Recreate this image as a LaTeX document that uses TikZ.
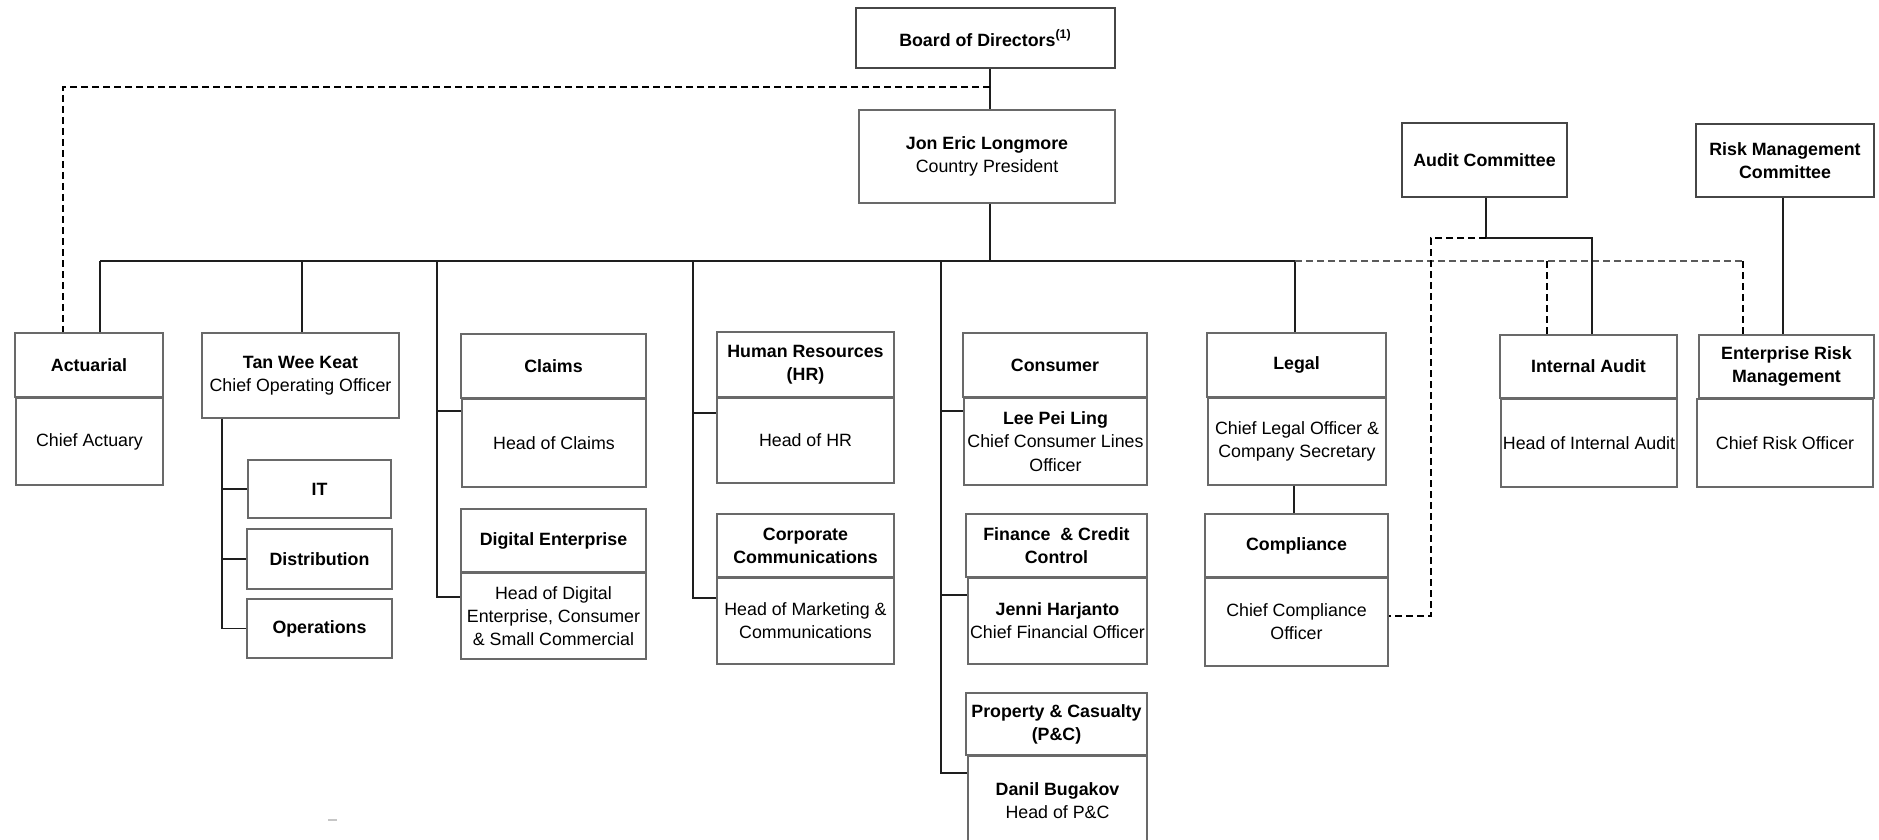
\documentclass[tikz,border=0pt]{standalone}
\usepackage{fontspec}
\setmainfont{Liberation Sans}
\definecolor{bxc}{RGB}{105,105,105}
\definecolor{tbxc}{RGB}{70,70,70}
\definecolor{lnc}{RGB}{30,30,30}
\definecolor{gdc}{RGB}{90,90,90}
\newcommand\fsz{\fontsize{8.9}{11.6}\selectfont}
\newcommand\obx[7]{\node[#2, minimum width={(#5-#3)*0.5pt}, minimum height={(#6-#4)*0.5pt}] (#1) at ({(#3+#5)/2},{(#4+#6)/2}) {#7};}
\tikzset{
  box/.style={draw=bxc, line width=0.6pt, inner sep=0pt, align=center, font=\fsz, fill=white},
  tbox/.style={box, draw=tbxc, line width=1.3pt},
  conn/.style={draw=lnc, line width=0.65pt},
  dsh/.style={draw=black, line width=0.65pt, dash pattern=on 3.5pt off 2pt},
  gdsh/.style={draw=gdc, line width=0.9pt, dash pattern=on 3.5pt off 2pt},
}
\begin{document}
\begin{tikzpicture}[x=0.5pt,y=-0.5pt]
\fill[white] (0,0) rectangle (1879,840);
\clip (0,0) rectangle (1879,840);

% coordinates for connector routing
\coordinate (v0) at (990,0);
\coordinate (dj) at (990,87);
\coordinate (ax) at (63,0);
\coordinate (b1) at (100,261);
\coordinate (b2) at (302,261);
\coordinate (b3) at (437,261);
\coordinate (b4) at (693,261);
\coordinate (b5) at (941,261);
\coordinate (b6) at (1295,261);
\coordinate (bc) at (990,261);
\coordinate (cx) at (222,0);
\coordinate (lx) at (1294,0);
\coordinate (iax) at (1592,0);
\coordinate (idx) at (1547,0);
\coordinate (id) at (1547,261);
\coordinate (ex) at (1743,0);
\coordinate (ed) at (1743,261);
\coordinate (aj) at (1486,238);
\coordinate (dc) at (1431,616);
\coordinate (rx) at (1783,0);

% boxes
\obx{bod}{tbox}{856}{8}{1115}{68}{\textbf{Board of Directors\textsuperscript{(1)}}}
\obx{cp}{box}{859}{110}{1115}{203}{\textbf{Jon Eric Longmore}\\Country President}
\obx{ac}{tbox}{1402}{123}{1567}{197}{\textbf{Audit Committee}}
\obx{rmc}{tbox}{1696}{124}{1874}{197}{\textbf{Risk Management}\\\textbf{Committee}}

\obx{act}{box}{15}{333}{163}{397}{\textbf{Actuarial}}
\obx{actl}{box}{16}{398}{163}{485}{Chief Actuary}
\obx{tan}{box}{202}{333}{399}{418}{\textbf{Tan Wee Keat}\\Chief Operating Officer}
\obx{it}{box}{248}{460}{391}{518}{\textbf{IT}}
\obx{dist}{box}{247}{529}{392}{589}{\textbf{Distribution}}
\obx{ops}{box}{247}{599}{392}{658}{\textbf{Operations}}

\obx{clm}{box}{461}{334}{646}{398}{\textbf{Claims}}
\obx{clml}{box}{462}{399}{646}{487}{Head of Claims}
\obx{dig}{box}{461}{509}{646}{572}{\textbf{Digital Enterprise}}
\obx{digl}{box}{461}{573}{646}{659}{Head of Digital\\Enterprise, Consumer\\\& Small Commercial}

\obx{hr}{box}{717}{332}{894}{397}{\textbf{Human Resources}\\\textbf{(HR)}}
\obx{hrl}{box}{717}{398}{894}{483}{Head of HR}
\obx{cc}{box}{717}{514}{894}{577}{\textbf{Corporate}\\\textbf{Communications}}
\obx{ccl}{box}{717}{578}{894}{664}{Head of Marketing \&\\Communications}

\obx{con}{box}{963}{333}{1147}{397}{\textbf{Consumer}}
\obx{conl}{box}{964}{398}{1147}{485}{\textbf{Lee Pei Ling}\\Chief Consumer Lines\\Officer}
\obx{fin}{box}{966}{514}{1147}{577}{\textbf{Finance\hspace{0.55em}\& Credit}\\\textbf{Control}}
\obx{finl}{box}{968}{578}{1147}{664}{\textbf{Jenni Harjanto}\\Chief Financial Officer}
\obx{pc}{box}{966}{693}{1147}{755}{\textbf{Property \& Casualty}\\\textbf{(P\&C)}}
\obx{pcl}{box}{968}{756}{1147}{846}{\textbf{Danil Bugakov}\\Head of P\&C}

\obx{leg}{box}{1207}{333}{1386}{397}{\textbf{Legal}}
\obx{legl}{box}{1208}{398}{1386}{485}{Chief Legal Officer \&\\Company Secretary}
\obx{cmp}{box}{1205}{514}{1388}{577}{\textbf{Compliance}}
\obx{cmpl}{box}{1205}{578}{1388}{666}{Chief Compliance\\Officer}

\obx{ia}{box}{1500}{335}{1677}{398}{\textbf{Internal Audit}}
\obx{ial}{box}{1501}{399}{1677}{487}{Head of Internal Audit}
\obx{erm}{box}{1699}{335}{1874}{398}{\textbf{Enterprise Risk}\\\textbf{Management}}
\obx{erml}{box}{1697}{399}{1873}{487}{Chief Risk Officer}

% connectors
\draw[conn] (bod.south -| v0) -- (cp.north -| v0);
\draw[dsh] (dj) -| (act.north -| ax);
\draw[conn] (cp.south -| v0) -- (bc);
\draw[conn] (b1) -- (b6);
\draw[conn] (b1) -- (act.north -| b1);
\draw[conn] (b2) -- (tan.north -| b2);

\draw[conn] (tan.south -| cx) |- (ops.west);
\draw[conn] (cx |- it.west) -- (it.west);
\draw[conn] (cx |- dist.west) -- (dist.west);

\draw[conn] (b3) |- (digl.west |- 0,597);
\draw[conn] (b3 |- 0,411) -- (clml.west |- 0,411);

\draw[conn] (b4) |- (ccl.west |- 0,598);
\draw[conn] (b4 |- 0,413) -- (hrl.west |- 0,413);

\draw[conn] (b5) |- (pcl.west |- 0,773);
\draw[conn] (b5 |- 0,411) -- (conl.west |- 0,411);
\draw[conn] (b5 |- 0,595) -- (finl.west |- 0,595);

\draw[conn] (b6) -- (leg.north -| b6);
\draw[conn] (legl.south -| lx) -- (cmp.north -| lx);

\draw[gdsh] (b6) -- (ed);
\draw[dsh] (ed) -- (erm.north -| ex);
\draw[dsh] (id) -- (ia.north -| idx);

\draw[conn] (ac.south -| aj) -- (aj) -| (ia.north -| iax);
\draw[dsh] (aj) -| (dc) -- (cmpl.east |- dc);

\draw[conn] (rmc.south -| rx) -- (erm.north -| rx);

% stray mark
\coordinate (sm) at (328,820);
\draw[gray!45, line width=1pt] (sm) -- ++(9,0);
\end{tikzpicture}
\end{document}
